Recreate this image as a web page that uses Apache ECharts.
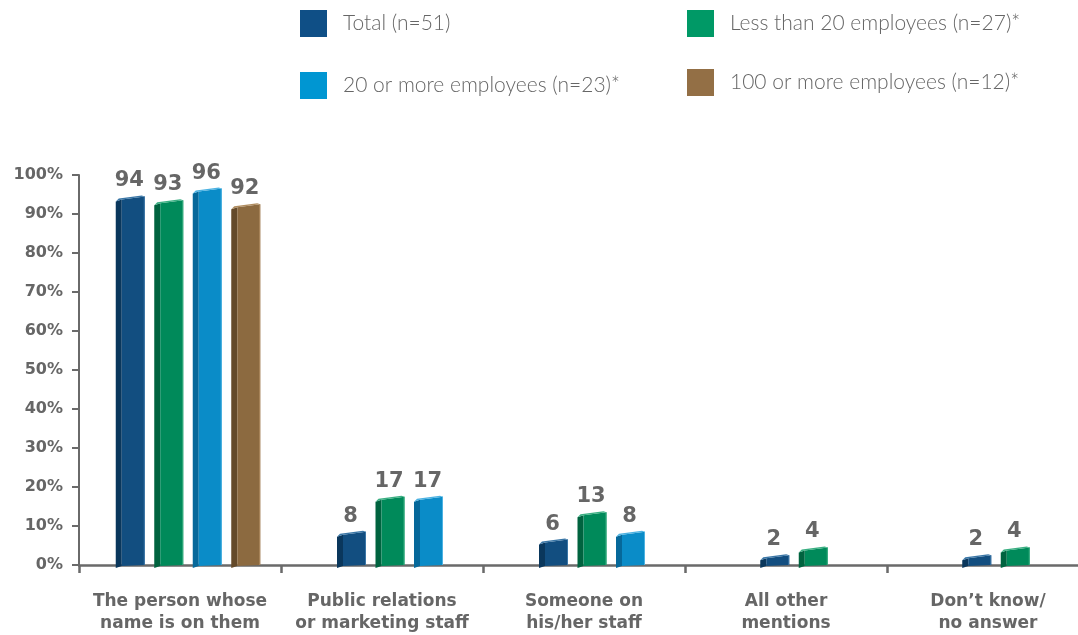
<!DOCTYPE html>
<html>
<head>
<meta charset="utf-8">
<title>Who handles them</title>
<script src="https://cdn.jsdelivr.net/npm/echarts@6/dist/echarts.min.js"></script>
<style>
  html, body { margin: 0; padding: 0; background: #ffffff; overflow: hidden; }
  /* the plot runs slightly past the right edge of the window */
  #chart { width: 1092px; height: 635px; }
</style>
</head>
<body>
<div id="chart"></div>
<script>
// Categories along the x axis (two-line labels)
const categories = [
  'The person whose\nname is on them',
  'Public relations\nor marketing staff',
  'Someone on\nhis/her staff',
  'All other\nmentions',
  'Don\u2019t know/\nno answer'
];

// Percent values per group (null = not shown)
const totalValues   = [94, 8, 6, 2, 2];
const under20Values = [93, 17, 13, 4, 4];
const over20Values  = [96, 17, 8, null, null];
const over100Values = [92, null, null, null, null];

const seriesNames = [
  'Total (n=51)',
  'Less than 20 employees (n=27)*',
  '20 or more employees (n=23)*',
  '100 or more employees (n=12)*'
];

const yTickValues = [0, 10, 20, 30, 40, 50, 60, 70, 80, 90, 100];

const allValues = [totalValues, under20Values, over20Values, over100Values];

// Face colours for the prism-style bars: legend swatch, front, side, top
const palette = [
  { swatch: '#0f4f86', front: '#124e80', side: '#0a375c', top: '#3a76a6' },
  { swatch: '#009966', front: '#008a5a', side: '#00633f', top: '#3aaf82' },
  { swatch: '#0096d2', front: '#0a8cc8', side: '#06689a', top: '#4cb2e2' },
  { swatch: '#936f45', front: '#8c6a40', side: '#644a2a', top: '#b08d60' }
];

const BOLD_FONT = '"DejaVu Sans", "Noto Sans", sans-serif';
const LEGEND_FONT = 'Lato, "Noto Sans", sans-serif';

function makeRenderItem(seriesIdx) {
  return function (params, api) {
    const ci = api.value(0);
    const v = api.value(1);
    if (v == null || isNaN(v)) return;
    // bars that exist in this category are packed and centred
    const present = [];
    allValues.forEach((arr, k) => { if (arr[ci] != null) present.push(k); });
    const rank = present.indexOf(seriesIdx);
    const n = present.length;
    const base = api.coord([ci, 0]);
    const topPt = api.coord([ci, v]);
    const pitch = 38.5, w = 29, side = 6, shift = 8;
    const cx = base[0] + shift + (rank - (n - 1) / 2) * pitch;
    const xl = cx - w / 2, xr = cx + w / 2;
    const yb = base[1], yt = topPt[1];
    const c = palette[seriesIdx];
    return {
      type: 'group',
      children: [
        { type: 'polygon', shape: { points: [[xl, yt + 3], [xl + side, yt + 1], [xl + side, yb + 1], [xl, yb + 3]] }, style: { fill: c.side } },
        { type: 'polygon', shape: { points: [[xl + side, yt + 1], [xr, yt - 2], [xr, yb], [xl + side, yb + 1]] }, style: { fill: c.front } },
        { type: 'polygon', shape: { points: [[xl, yt + 3], [xl + side, yt + 1], [xr, yt - 2], [xr - 3, yt - 3], [xl + 3, yt]] }, style: { fill: c.top } },
        { type: 'line', shape: { x1: xr - 0.5, y1: yt - 2, x2: xr - 0.5, y2: yb }, style: { stroke: c.top, lineWidth: 1 } },
        {
          type: 'text',
          style: {
            x: cx - 1, y: yt - 7, text: String(v),
            align: 'center', verticalAlign: 'bottom',
            font: 'bold 21px ' + BOLD_FONT, fill: '#666666'
          }
        }
      ]
    };
  };
}

const legendPos = [
  { left: 300, top: 10 },
  { left: 687, top: 10 },
  { left: 300, top: 72 },
  { left: 687, top: 69 }
];

const chart = echarts.init(document.getElementById('chart'), null, { renderer: 'canvas' });

chart.setOption({
  backgroundColor: '#ffffff',
  animation: false,
  legend: seriesNames.map((name, i) => ({
    data: [name],
    left: legendPos[i].left,
    top: legendPos[i].top,
    padding: 0,
    icon: 'rect',
    itemWidth: 27,
    itemHeight: 27,
    selectedMode: false,
    textStyle: { fontFamily: LEGEND_FONT, fontWeight: 300, fontSize: 21, color: '#666666', padding: [0, 0, 0, 11] }
  })),
  grid: { left: 79, top: 175, width: 1010, height: 391 },
  xAxis: {
    type: 'category',
    data: categories,
    axisLine: { lineStyle: { color: '#6a6a6a', width: 2.5 } },
    axisTick: { show: true, length: 8, lineStyle: { color: '#6a6a6a', width: 2.5 } },
    axisLabel: {
      interval: 0, margin: 26,
      fontFamily: BOLD_FONT, fontWeight: 'bold', fontSize: 17,
      lineHeight: 22, color: '#666666'
    },
    splitLine: { show: false }
  },
  yAxis: {
    type: 'value',
    min: yTickValues[0],
    max: yTickValues[yTickValues.length - 1],
    interval: 10,
    axisLine: { show: true, lineStyle: { color: '#6a6a6a', width: 2 } },
    axisTick: { show: true, length: 7, lineStyle: { color: '#6a6a6a', width: 2 } },
    axisLabel: {
      formatter: '{value}%', margin: 16,
      fontFamily: BOLD_FONT, fontWeight: 'bold', fontSize: 16, color: '#666666'
    },
    splitLine: { show: false }
  },
  series: allValues.map((arr, i) => ({
    type: 'custom',
    name: seriesNames[i],
    itemStyle: { color: palette[i].swatch },
    encode: { x: 0, y: 1 },
    clip: false,
    renderItem: makeRenderItem(i),
    data: arr.map((v, ci) => [ci, v])
  }))
});
</script>
</body>
</html>
